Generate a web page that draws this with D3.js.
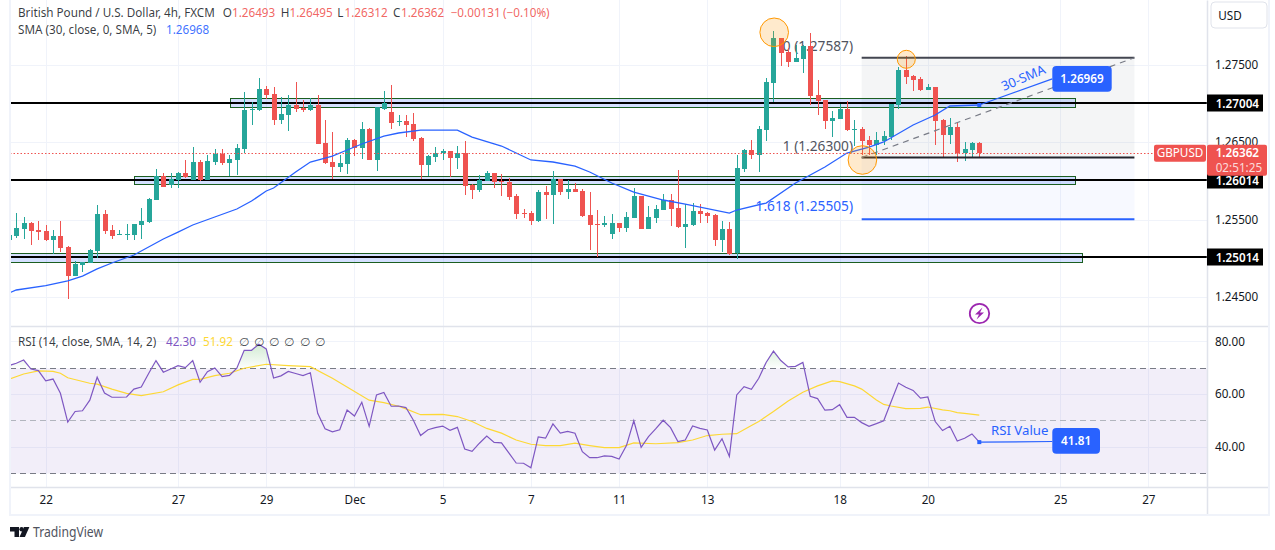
<!DOCTYPE html>
<html>
<head>
<meta charset="utf-8">
<script src="https://cdn.jsdelivr.net/npm/d3@7"></script>
<style>
  html, body { margin: 0; padding: 0; background: #fff; overflow: hidden; }
  svg { display: block; }
  text { font-family: "Noto Sans", "DejaVu Sans", sans-serif; font-size: 11.7px; fill: #131722; }
  .axis text { fill: #131722; font-size: 11.7px; }
  .axis .domain { display: none; }
  .axis line { display: none; }
</style>
</head>
<body>
<svg id="chart" width="1275" height="550"></svg>
<script>
// candle 0 is the one cut off by the left edge
const opens = [
  1.25237,1.25289,1.25379,1.25456,1.25366,1.25353,1.25237,1.25289,1.25147,1.24773,1.24915,1.24941,1.25095,
  1.25572,1.25366,1.25302,1.25302,1.25302,1.25431,1.25469,1.25753,1.26062,1.25946,1.26011,1.26101,1.26011,
  1.26243,1.26011,1.26243,1.26346,1.26230,1.26269,1.26410,1.26913,1.26913,1.27184,1.27120,1.26784,1.26849,
  1.26978,1.26939,1.26913,1.26978,1.26488,1.26243,1.26178,1.26217,1.26526,1.26423,1.26668,1.26269,1.26926,
  1.26887,1.26759,1.26771,1.26733,1.26552,1.26204,1.26307,1.26359,1.26385,1.26294,1.26359,1.25946,1.25882,
  1.25998,1.26101,1.25998,1.25985,1.25805,1.25585,1.25585,1.25482,1.25856,1.25818,1.26024,1.25856,1.25895,
  1.25869,1.25560,1.25444,1.25431,1.25315,1.25456,1.25392,1.25521,1.25805,1.25379,1.25521,1.25624,1.25753,
  1.25650,1.25405,1.25431,1.25611,1.25585,1.25560,1.25237,1.25379,1.25070,1.26153,1.26398,1.26333,1.26655,
  1.27261,1.27842,1.27661,1.27532,1.27571,1.27738,1.27107,1.27042,1.26771,1.26797,1.26926,1.26655,1.26668,
  1.26526,1.26462,1.26514,1.26565,1.26978,1.27429,1.27352,1.27313,1.27171,1.27210,1.26784,1.26591,1.26694,
  1.26359,1.26398,1.26493
];
const highs = [
  1.25340,1.25585,1.25534,1.25469,1.25482,1.25431,1.25366,1.25482,1.25160,1.24966,1.24953,1.25121,1.25689,
  1.25624,1.25431,1.25366,1.25444,1.25444,1.25650,1.25779,1.26153,1.26101,1.26101,1.26114,1.26269,1.26436,
  1.26269,1.26333,1.26410,1.26410,1.26333,1.26475,1.27145,1.27016,1.27326,1.27223,1.27210,1.27081,1.27107,
  1.27274,1.27042,1.27068,1.27107,1.26784,1.26630,1.26333,1.26552,1.26539,1.26759,1.26681,1.26952,1.27158,
  1.27236,1.26849,1.26849,1.26875,1.26565,1.26333,1.26436,1.26410,1.26385,1.26449,1.26514,1.25959,1.26075,
  1.26127,1.26101,1.26088,1.26037,1.25830,1.25637,1.25611,1.25882,1.25934,1.26127,1.26024,1.26011,1.25972,
  1.25895,1.25856,1.25624,1.25547,1.25572,1.25456,1.25598,1.25908,1.25805,1.25676,1.25689,1.25830,1.25830,
  1.26140,1.25701,1.25714,1.25701,1.25598,1.25572,1.25482,1.25469,1.26333,1.26410,1.26526,1.26707,1.27326,
  1.27932,1.27842,1.27713,1.27751,1.27751,1.27906,1.27300,1.27042,1.26900,1.26991,1.27029,1.26784,1.26694,
  1.26578,1.26630,1.26643,1.26991,1.27468,1.27610,1.27365,1.27339,1.27248,1.27210,1.26797,1.26810,1.26746,
  1.26501,1.26501,1.26495
];
const lows = [
  1.25211,1.25263,1.25250,1.25173,1.25237,1.25224,1.25057,1.25082,1.24477,1.24773,1.24825,1.24941,1.25005,
  1.25315,1.25250,1.25302,1.25237,1.25237,1.25250,1.25456,1.25753,1.25921,1.25908,1.25908,1.26037,1.26011,
  1.25998,1.26011,1.26204,1.26204,1.26062,1.26075,1.26359,1.26720,1.26900,1.27055,1.26720,1.26733,1.26643,
  1.26887,1.26887,1.26900,1.26475,1.26217,1.26024,1.26114,1.26088,1.26320,1.26281,1.26269,1.26127,1.26913,
  1.26668,1.26707,1.26565,1.26514,1.26024,1.26062,1.26243,1.26269,1.26050,1.26153,1.25818,1.25766,1.25856,
  1.25998,1.25908,1.25805,1.25753,1.25508,1.25521,1.25431,1.25469,1.25508,1.25444,1.25818,1.25766,1.25856,
  1.25534,1.25108,1.25018,1.25405,1.25250,1.25340,1.25340,1.25521,1.25379,1.25379,1.25456,1.25624,1.25418,
  1.25392,1.25134,1.25418,1.25456,1.25456,1.25160,1.25082,1.25044,1.24992,1.26114,1.26281,1.26114,1.26514,
  1.27016,1.27481,1.27468,1.27532,1.27390,1.26978,1.26849,1.26668,1.26565,1.26797,1.26643,1.26449,1.26333,
  1.26333,1.26333,1.26462,1.26526,1.26926,1.27248,1.27158,1.27158,1.27171,1.26462,1.26294,1.26475,1.26243,
  1.26256,1.26294,1.26312
];
const closes = [
  1.25302,1.25392,1.25456,1.25353,1.25340,1.25237,1.25289,1.25134,1.24773,1.24928,1.24953,1.25108,1.25572,
  1.25353,1.25289,1.25315,1.25315,1.25444,1.25482,1.25766,1.26062,1.25921,1.26024,1.26101,1.26050,1.26243,
  1.26011,1.26256,1.26346,1.26230,1.26281,1.26423,1.26913,1.26926,1.27184,1.27107,1.26784,1.26862,1.26978,
  1.26926,1.26913,1.26978,1.26475,1.26230,1.26178,1.26230,1.26526,1.26423,1.26668,1.26269,1.26952,1.27004,
  1.26746,1.26771,1.26720,1.26539,1.26204,1.26320,1.26359,1.26385,1.26294,1.26359,1.25934,1.25882,1.26011,
  1.26101,1.25985,1.25985,1.25792,1.25572,1.25572,1.25482,1.25856,1.25818,1.26024,1.25856,1.25895,1.25856,
  1.25547,1.25431,1.25431,1.25456,1.25456,1.25392,1.25534,1.25805,1.25379,1.25534,1.25637,1.25753,1.25637,
  1.25405,1.25444,1.25611,1.25572,1.25547,1.25237,1.25379,1.25057,1.26165,1.26398,1.26333,1.26668,1.27274,
  1.27842,1.27648,1.27532,1.27584,1.27738,1.27094,1.27029,1.26771,1.26810,1.26926,1.26655,1.26668,1.26514,
  1.26462,1.26526,1.26578,1.26991,1.27429,1.27339,1.27300,1.27171,1.27210,1.26771,1.26591,1.26694,1.26359,
  1.26410,1.26488,1.26362
];

const smaBars = [0,1,5,8,10,12,14,17,21,23,25,28,31,33,35,36,39,41,44,46,48,51,53,56,61,63,67,71,74,77,79,82,85,89,92,98,99,103,107,111,114,117,119,123,126,128,132];
const smaValues = [1.24554,1.24593,1.24648,1.24709,1.24773,1.24864,1.24941,1.25044,1.25250,1.25340,1.25431,1.25534,1.25637,1.25740,1.25869,1.25908,1.26114,1.26243,1.26320,1.26398,1.26475,1.26578,1.26617,1.26655,1.26655,1.26565,1.26449,1.26269,1.26243,1.26191,1.26114,1.25972,1.25856,1.25753,1.25701,1.25585,1.25624,1.25714,1.25972,1.26178,1.26359,1.26436,1.26501,1.26720,1.26849,1.26965,1.26978];

const rsiValues = [
  70.8,71.7,72.9,69.5,68.9,65.0,65.7,60.3,49.4,53.4,53.7,57.7,66.4,60.4,58.8,58.8,58.9,61.9,62.7,67.8,72.7,68.3,69.5,70.8,70.0,72.7,
  64.5,68.5,69.9,66.6,67.1,69.8,76.6,76.6,78.9,77.1,66.1,66.9,68.6,67.8,67.0,68.1,52.7,46.9,45.7,46.5,54.0,51.7,56.9,47.8,59.7,60.6,
  55.4,55.5,54.9,50.2,44.3,46.5,47.3,47.9,46.3,47.4,39.2,38.3,41.4,44.1,41.7,41.5,37.7,33.9,33.8,32.1,43.8,43.3,48.7,45.2,45.9,45.2,
  38.2,35.9,35.9,36.6,36.4,35.4,40.5,49.9,39.8,43.9,46.9,50.1,47.3,42.0,42.6,47.9,47.0,46.4,38.8,43.1,36.4,59.7,62.8,61.8,66.0,72.0,
  76.3,72.7,70.3,70.5,72.0,59.2,58.3,53.9,54.1,56.0,51.2,51.2,49.2,47.8,48.8,49.9,57.1,64.2,62.6,61.4,58.5,58.9,49.6,46.2,47.8,42.2,
  43.3,44.9,41.81
];
const rsiSmaBars = [0,2,4,6,7,8,11,12,14,16,18,21,23,25,26,28,30,32,35,38,41,44,49,51,53,54,56,59,61,63,65,67,69,71,73,75,77,79,81,83,85,88,91,93,95,97,99,101,102,104,106,108,110,112,113,115,116,118,119,120,122,124,125,127,128,129,130,132];
const rsiSmaValues = [65.6,67.6,68.8,68.6,67.9,66.2,64.1,63.8,61.9,60.3,59.4,60.9,63.5,65.6,65.6,67.0,67.9,69.8,71.3,70.8,70.4,66.0,57.7,56.8,55.4,54.4,52.2,52.3,51.5,49.6,47.0,45.2,42.6,41.0,40.5,40.5,41.4,40.5,39.7,39.7,41.5,41.2,41.6,42.6,44.3,44.8,45.0,48.1,49.6,53.4,57.4,60.7,63.1,65.0,64.7,63.1,61.9,57.8,56.1,55.5,54.5,54.6,55.1,54.0,53.7,53.0,52.7,52.0];

const timeBars = [5,23,35,47,59,71,83,95,113,125,143,155];
const timeLabels = ["22","27","29","Dec","5","7","11","13","18","20","25","27"];
const priceTicks = [1.245,1.255,1.265,1.275];
const rsiTicks = [40,60,80];
const keyLevels = [1.27004,1.26014,1.25014];
const fibLevels = [1.27587,1.263,1.25505];
const smaNow = 1.26968, smaCallout = 1.26969, rsiNow = 42.30, rsiSmaNow = 51.92, rsiCallout = 41.81;

const chartLeft = 10, axisLeft = 1207, panelTop = 326, timeTop = 487, frameBottom = 515;

const svg = d3.select('#chart');
const x = d3.scaleLinear().domain([1, 132]).range([16.3, 979.3]);
const y = d3.scaleLinear().domain([1.245, 1.275]).range([297.2, 64.5]);
const yRsi = d3.scaleLinear().domain([30, 80]).range([473.3, 341.3]);
const fmt = d3.format('.5f');
const snapRsi = v => Math.floor(yRsi(v) + 0.4) + 0.5;

const defs = svg.append('defs');
defs.append('clipPath').attr('id', 'clipMain').append('rect')
  .attr('x', chartLeft).attr('y', 0).attr('width', axisLeft - chartLeft).attr('height', panelTop);
defs.append('clipPath').attr('id', 'clipRsi').append('rect')
  .attr('x', chartLeft).attr('y', panelTop).attr('width', axisLeft - chartLeft).attr('height', timeTop - panelTop);
const grad = defs.append('linearGradient').attr('id', 'obFill').attr('x1', 0).attr('x2', 0).attr('y1', 0).attr('y2', 1);
grad.append('stop').attr('offset', '0%').attr('stop-color', '#4caf50').attr('stop-opacity', 0.25);
grad.append('stop').attr('offset', '100%').attr('stop-color', '#4caf50').attr('stop-opacity', 0.02);

// grid
const grid = svg.append('g').attr('stroke', '#f0f3fa').attr('stroke-width', 1);
grid.selectAll('line.v').data(timeBars).enter().append('line')
  .attr('x1', d => Math.round(x(d)) + 0.5).attr('x2', d => Math.round(x(d)) + 0.5)
  .attr('y1', 0).attr('y2', timeTop);
grid.selectAll('line.h').data(priceTicks).enter().append('line')
  .attr('x1', chartLeft).attr('x2', axisLeft)
  .attr('y1', d => Math.round(y(d)) + 0.5).attr('y2', d => Math.round(y(d)) + 0.5);
grid.selectAll('line.r').data(rsiTicks).enter().append('line')
  .attr('x1', chartLeft).attr('x2', axisLeft)
  .attr('y1', d => snapRsi(d)).attr('y2', d => snapRsi(d));

const main = svg.append('g').attr('clip-path', 'url(#clipMain)');

// fib retracement
const fibFrom = 116, fibTo = 153.1;
main.append('rect').attr('x', x(fibFrom)).attr('width', x(fibTo) - x(fibFrom))
  .attr('y', y(fibLevels[0])).attr('height', y(fibLevels[1]) - y(fibLevels[0]))
  .attr('fill', '#787b86').attr('fill-opacity', 0.08);
main.append('rect').attr('x', x(fibFrom)).attr('width', x(fibTo) - x(fibFrom))
  .attr('y', y(fibLevels[1])).attr('height', y(fibLevels[2]) - y(fibLevels[1]))
  .attr('fill', '#2962ff').attr('fill-opacity', 0.04);

// support and resistance zones
const zones = [
  { from: 30.1, to: 145.1, top: 1.27064, bottom: 1.26948 },
  { from: 17.05, to: 145.1, top: 1.26059, bottom: 1.25956 },
  { from: 0, to: 146.0, top: 1.25066, bottom: 1.2495 }
];
main.selectAll('rect.zone').data(zones).enter().append('rect')
  .attr('class', 'zone')
  .attr('x', d => Math.round(x(d.from)) + 0.5).attr('width', d => Math.round(x(d.to) - x(d.from)))
  .attr('y', d => Math.round(y(d.top)) + 0.5).attr('height', d => Math.round(y(d.bottom) - y(d.top)))
  .attr('fill', '#2962ff').attr('fill-opacity', 0.2)
  .attr('stroke', '#1b5e20').attr('stroke-width', 1);

main.selectAll('line.level').data(keyLevels).enter().append('line')
  .attr('class', 'level')
  .attr('x1', chartLeft).attr('x2', axisLeft)
  .attr('y1', d => Math.round(y(d))).attr('y2', d => Math.round(y(d)))
  .attr('stroke', '#000').attr('stroke-width', 2);

// fib labels sit behind the candles
const fibText = [
  { label: '0 (' + fmt(fibLevels[0]) + ')', price: fibLevels[0], dy: -7, color: '#50535e' },
  { label: '1 (' + fmt(fibLevels[1]) + ')', price: fibLevels[1], dy: -7, color: '#50535e' },
  { label: '1.618 (' + fmt(fibLevels[2]) + ')', price: fibLevels[2], dy: -8, color: '#2962ff' }
];
main.selectAll('text.fib').data(fibText).enter().append('text')
  .attr('class', 'fib')
  .attr('x', 853).attr('y', d => y(d.price) + d.dy)
  .attr('text-anchor', 'end')
  .style('font-size', '13.7px').style('fill', d => d.color)
  .text(d => d.label);

// candles
const candles = opens.map((o, i) => ({ i, o, h: highs[i], l: lows[i], c: closes[i] }));
const color = d => d.c >= d.o ? '#26a69a' : '#ef5350';
const candleG = main.append('g').attr('shape-rendering', 'crispEdges');
candleG.selectAll('line').data(candles).enter().append('line')
  .attr('x1', d => Math.round(x(d.i)) + 0.5).attr('x2', d => Math.round(x(d.i)) + 0.5)
  .attr('y1', d => y(d.h)).attr('y2', d => y(d.l))
  .attr('stroke', color).attr('stroke-width', 1);
candleG.selectAll('rect').data(candles).enter().append('rect')
  .attr('x', d => Math.round(x(d.i)) - 2).attr('width', 5)
  .attr('y', d => y(Math.max(d.o, d.c)))
  .attr('height', d => Math.max(1, Math.abs(y(d.o) - y(d.c))))
  .attr('fill', color);

// fib lines on top
const fibLines = [
  { price: fibLevels[0], color: '#434651' },
  { price: fibLevels[1], color: '#22242c' },
  { price: fibLevels[2], color: '#2962ff' }
];
main.selectAll('line.fibline').data(fibLines).enter().append('line')
  .attr('class', 'fibline')
  .attr('x1', x(fibFrom)).attr('x2', x(fibTo))
  .attr('y1', d => y(d.price)).attr('y2', d => y(d.price))
  .attr('stroke', d => d.color).attr('stroke-width', 2);
main.append('line')
  .attr('x1', x(fibFrom)).attr('y1', y(fibLevels[1]))
  .attr('x2', x(fibTo)).attr('y2', y(fibLevels[0]))
  .attr('stroke', '#787b86').attr('stroke-width', 1.2).attr('stroke-dasharray', '6 5');

// SMA
const smaLine = d3.line().x(d => x(d[0])).y(d => y(d[1]));
main.append('path').datum(d3.zip(smaBars, smaValues))
  .attr('d', smaLine).attr('fill', 'none').attr('stroke', '#2962ff').attr('stroke-width', 1.3);

// current price line
main.append('line')
  .attr('x1', chartLeft).attr('x2', 1154)
  .attr('y1', Math.round(y(closes[132])) + 0.5).attr('y2', Math.round(y(closes[132])) + 0.5)
  .attr('stroke', '#ef5350').attr('stroke-width', 1).attr('stroke-dasharray', '1.5 2');

// circled swing points
const swings = [
  { bar: 104.1, price: 1.27915, r: 14.3 },
  { bar: 122.07, price: 1.27567, r: 9 },
  { bar: 116.1, price: 1.26269, r: 14.3 }
];
main.selectAll('circle.swing').data(swings).enter().append('circle')
  .attr('class', 'swing')
  .attr('cx', d => x(d.bar)).attr('cy', d => y(d.price)).attr('r', d => d.r)
  .attr('fill', '#ff9800').attr('fill-opacity', 0.2)
  .attr('stroke', '#ff9800').attr('stroke-width', 1);

// 30-SMA callout
const smaBoxX = 1052.3;
main.append('line')
  .attr('x1', x(132)).attr('y1', y(1.26978)).attr('x2', smaBoxX).attr('y2', y(1.27315))
  .attr('stroke', '#2962ff').attr('stroke-width', 1.2);
main.append('rect').attr('x', x(132) - 2).attr('y', y(1.26978) - 2).attr('width', 4).attr('height', 4).attr('fill', '#2962ff');
main.append('rect').attr('x', smaBoxX).attr('y', 66).attr('width', 59.4).attr('height', 25.7).attr('rx', 4).attr('fill', '#2962ff');
main.append('text').attr('x', smaBoxX + 29.7).attr('y', 83.2).attr('text-anchor', 'middle')
  .style('fill', '#fff').style('font-weight', 600).text(fmt(smaCallout));
main.append('text')
  .attr('transform', 'translate(1025,82) rotate(-23)')
  .attr('text-anchor', 'middle')
  .style('fill', '#2962ff').style('font-size', '13px').text('30-SMA');

// bolt badge
const badge = main.append('g').attr('transform', 'translate(979.5,313.5)');
badge.append('circle').attr('r', 9.7).attr('fill', '#fff').attr('stroke', '#9c27b0').attr('stroke-width', 1.8);
badge.append('path').attr('d', 'M3 -6 L-4.5 1 L-0.5 1 L-3 6 L4.5 -1 L0.5 -1 Z').attr('fill', '#9c27b0');

// RSI panel
const rsiG = svg.append('g').attr('clip-path', 'url(#clipRsi)');
rsiG.append('rect').attr('x', chartLeft).attr('width', axisLeft - chartLeft)
  .attr('y', snapRsi(70)).attr('height', snapRsi(30) - snapRsi(70))
  .attr('fill', '#7e57c2').attr('fill-opacity', 0.1);
[[70, '#787b86', '6 4'], [50, '#b2b5be', '6 4'], [30, '#787b86', '6 4']].forEach(([v, c, dash]) => {
  rsiG.append('line').attr('x1', chartLeft).attr('x2', axisLeft)
    .attr('y1', snapRsi(v)).attr('y2', snapRsi(v))
    .attr('stroke', c).attr('stroke-width', 1).attr('stroke-dasharray', dash);
});
rsiG.append('path').datum(rsiValues)
  .attr('d', d3.area().x((d, i) => x(i)).y0(yRsi(70)).y1(d => yRsi(Math.max(d, 70))))
  .attr('fill', 'url(#obFill)');
rsiG.append('path').datum(d3.zip(rsiSmaBars, rsiSmaValues))
  .attr('d', d3.line().x(d => x(d[0])).y(d => yRsi(d[1])))
  .attr('fill', 'none').attr('stroke', '#fdd835').attr('stroke-width', 1.2);
rsiG.append('path').datum(rsiValues)
  .attr('d', d3.line().x((d, i) => x(i)).y(d => yRsi(d)))
  .attr('fill', 'none').attr('stroke', '#7e57c2').attr('stroke-width', 1.2);

// RSI callout
const rsiBoxX = 1052.3;
rsiG.append('line').attr('x1', x(132)).attr('y1', yRsi(rsiCallout)).attr('x2', rsiBoxX).attr('y2', yRsi(rsiCallout) - 0.6)
  .attr('stroke', '#2962ff').attr('stroke-width', 1.2);
rsiG.append('rect').attr('x', x(132) - 2).attr('y', yRsi(rsiCallout) - 2).attr('width', 4).attr('height', 4).attr('fill', '#2962ff');
rsiG.append('text').attr('x', 991).attr('y', 434.5).style('fill', '#2962ff').style('font-size', '13.2px').text('RSI Value');
rsiG.append('rect').attr('x', rsiBoxX).attr('y', 428).attr('width', 47.7).attr('height', 25.7).attr('rx', 4).attr('fill', '#2962ff');
rsiG.append('text').attr('x', rsiBoxX + 23.8).attr('y', 445.2).attr('text-anchor', 'middle')
  .style('fill', '#fff').style('font-weight', 600).text(rsiCallout.toFixed(2));

// panel borders
const borders = svg.append('g').attr('stroke', '#e0e3eb');
[[chartLeft, panelTop, 1268, panelTop], [chartLeft, timeTop, 1268, timeTop], [axisLeft, 0, axisLeft, frameBottom]]
  .forEach(([a, b, c, e]) => borders.append('line').attr('x1', a + 0.5).attr('y1', b + 0.5).attr('x2', c + 0.5).attr('y2', e + 0.5).attr('stroke-width', 1.5));
svg.append('rect').attr('x', 10).attr('y', -2).attr('width', 1259).attr('height', frameBottom + 2)
  .attr('fill', 'none').attr('stroke', '#f0f3fa').attr('stroke-width', 2);

// axes
svg.append('g').attr('class', 'axis').attr('transform', `translate(${axisLeft},0)`)
  .call(d3.axisRight(y).tickValues(priceTicks).tickSize(0).tickPadding(8).tickFormat(fmt));
svg.append('g').attr('class', 'axis').attr('transform', `translate(${axisLeft},0)`)
  .call(d3.axisRight(yRsi).tickValues(rsiTicks).tickSize(0).tickPadding(8).tickFormat(d => d.toFixed(2)));
svg.append('g').attr('class', 'axis').attr('transform', 'translate(0,495.5)')
  .call(d3.axisBottom(x).tickValues(timeBars).tickSize(0).tickPadding(0).tickFormat((d, i) => timeLabels[i]));

// axis tags
const tags = svg.append('g');
keyLevels.forEach(level => {
  const ty = Math.round(y(level));
  tags.append('rect').attr('x', axisLeft).attr('y', ty - 8.5).attr('width', 56).attr('height', 17).attr('fill', '#000');
  tags.append('text').attr('x', axisLeft + 8.7).attr('y', ty + 4.6).style('fill', '#fff').style('font-weight', 600).text(fmt(level));
});
const lastY = y(closes[132]);
tags.append('rect').attr('x', axisLeft).attr('y', lastY - 8).attr('width', 60).attr('height', 31).attr('rx', 2).attr('fill', '#ef5350');
tags.append('text').attr('x', axisLeft + 8.7).attr('y', lastY + 4.6).style('fill', '#fff').style('font-weight', 600).text(fmt(closes[132]));
tags.append('text').attr('x', axisLeft + 8.7).attr('y', lastY + 19).style('fill', '#fff').style('fill-opacity', 0.8).text('02:51:25');
tags.append('rect').attr('x', 1154).attr('y', lastY - 8).attr('width', 52).attr('height', 17).attr('rx', 2).attr('fill', '#ef5350');
tags.append('text').attr('x', 1180).attr('y', lastY + 4.6).attr('text-anchor', 'middle').style('fill', '#fff').text('GBPUSD');

// USD button
svg.append('rect').attr('x', 1211).attr('y', 2).attr('width', 56).attr('height', 26).attr('rx', 4)
  .attr('fill', '#fff').attr('stroke', '#e0e3eb');
svg.append('text').attr('x', 1230).attr('y', 20).attr('text-anchor', 'middle').text('USD');

// legends
const last = candles[132];
const red = '#ef5350';
const legend = [
  [18, 17, 'British Pound / U.S. Dollar, 4h, FXCM', '#131722', 0.85],
  [222.7, 17, 'O', '#131722', 0.85], [232, 17, fmt(last.o), red, 0.9],
  [280.7, 17, 'H', '#131722', 0.85], [289.5, 17, fmt(last.h), red, 0.9],
  [337.3, 17, 'L', '#131722', 0.85], [344.5, 17, fmt(last.l), red, 0.9],
  [393, 17, 'C', '#131722', 0.85], [401, 17, fmt(last.c), red, 0.9],
  [450.7, 17, '\u22120.00131', red, 0.9],
  [503, 17, '(\u22120.10%)', red, 0.9],
  [18, 34, 'SMA (30, close, 0, SMA, 5)', '#131722', 0.85],
  [166, 34, fmt(smaNow), '#2962ff', 0.9],
  [18, 346, 'RSI (14, close, SMA, 14, 2)', '#131722', 0.85],
  [166, 346, rsiNow.toFixed(2), '#7e57c2', 1],
  [203, 346, rsiSmaNow.toFixed(2), '#fdd835', 1]
];
svg.selectAll('text.legend').data(legend).enter().append('text')
  .attr('class', 'legend')
  .attr('x', d => d[0]).attr('y', d => d[1])
  .style('fill', d => d[3]).style('fill-opacity', d => d[4]).text(d => d[2]);
svg.selectAll('text.naught').data([244, 259, 274, 289, 305, 320]).enter().append('text')
  .attr('class', 'naught')
  .attr('x', d => d).attr('y', 346).attr('text-anchor', 'middle')
  .style('font-family', '"DejaVu Sans"').style('fill-opacity', 0.8).text('\u2205');

// logo
const logo = svg.append('g').attr('fill', '#131722');
logo.append('path').attr('d', 'M10 527h9v10h-4.5v-5.5H10z');
logo.append('circle').attr('cx', 21.6).attr('cy', 529.3).attr('r', 2.2);
logo.append('path').attr('d', 'M24 527h5.4l-4.5 10h-5.4z');
svg.append('text').attr('x', 33).attr('y', 537)
  .attr('textLength', 70).attr('lengthAdjust', 'spacingAndGlyphs')
  .style('font-size', '13.5px').style('fill', '#50535e').text('TradingView');
</script>
</body>
</html>
